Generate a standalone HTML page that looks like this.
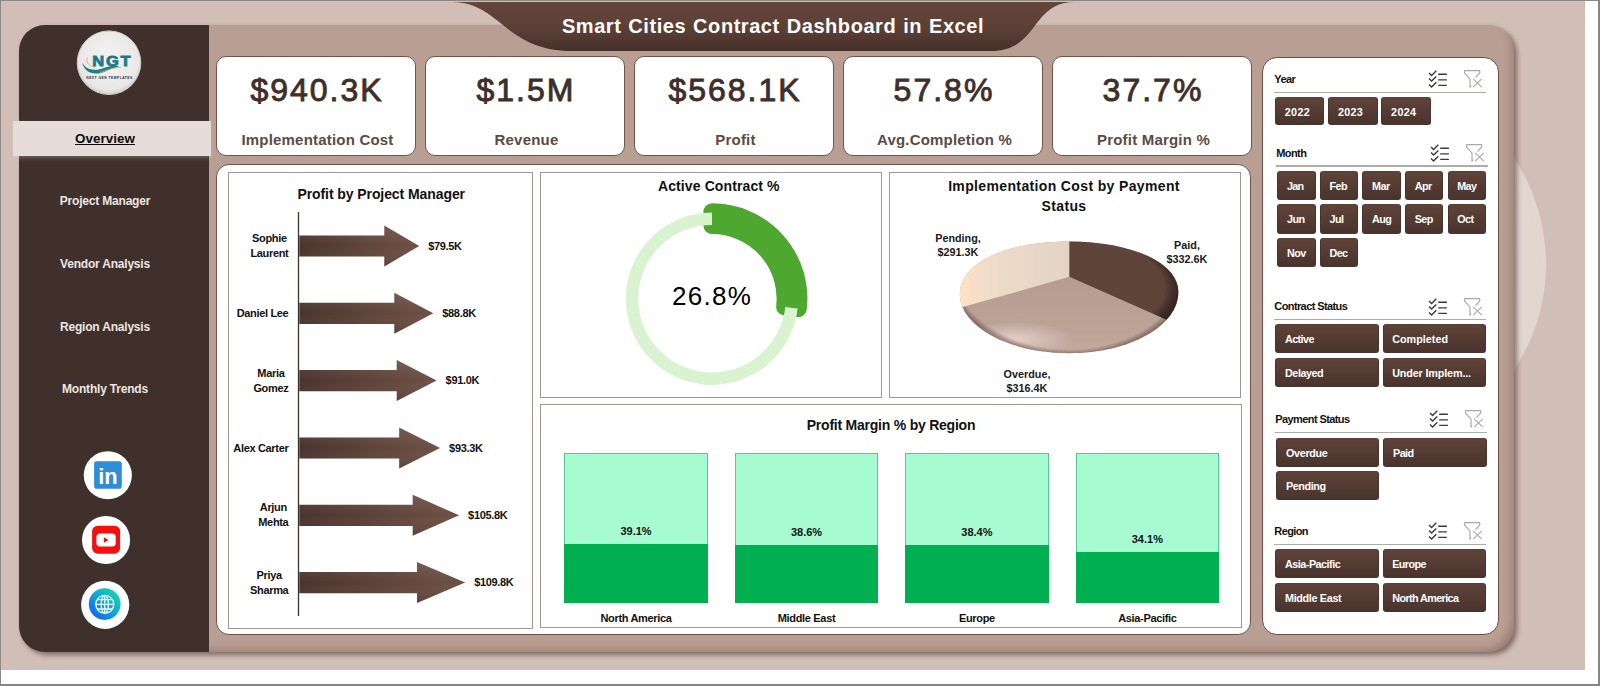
<!DOCTYPE html>
<html lang="en">
<head>
<meta charset="utf-8">
<title>Smart Cities Contract Dashboard in Excel</title>
<style>
*{box-sizing:border-box;margin:0;padding:0}
html,body{width:1600px;height:686px;overflow:hidden;background:#fff}
body{position:relative;font-family:"Liberation Sans",sans-serif;color:#000}
.abs{position:absolute}
#frame{position:absolute;left:0;top:0;width:1600px;height:686px;border-left:1px solid #8f8986;border-top:1px solid #8f8986;border-right:2px solid #868686;border-bottom:2px solid #868686;z-index:50;pointer-events:none}
#bg{position:absolute;left:1px;top:1px;width:1584px;height:669px;background:#d1beb6}
#halo{position:absolute;left:1162px;top:72px;width:384px;height:384px;border-radius:50%;background:radial-gradient(circle at 50% 50%,#e9dfdb 0%,#e2d6d1 70%,#dacbc5 90%,#d5c4bd 100%);}
#main{position:absolute;left:19px;top:25px;width:1494.5px;height:627px;border-radius:26px;background:#b99e94;box-shadow:3px 3px 5px rgba(60,40,35,.55),inset -7px -7px 9px -5px rgba(70,40,32,.28)}
#side{position:absolute;left:19px;top:25px;width:190px;height:627px;border-radius:26px 0 0 26px;background:#3f302b}
#ovw{position:absolute;left:13px;top:121px;width:198px;height:34.5px;background:#e6dcd8;box-shadow:0 2px 4px rgba(225,215,210,.3)}
.nav{position:absolute;left:19px;width:172px;text-align:center;font-weight:bold;font-size:12px;color:#ece5e1;letter-spacing:-.2px;line-height:16px;white-space:nowrap}
#ovwt{position:absolute;left:13px;top:121px;width:184px;height:34px;line-height:35px;text-align:center;font-weight:bold;font-size:13.4px;color:#0f0b0a;text-decoration:underline;letter-spacing:.05px}
.kpi{position:absolute;top:55.6px;width:199.2px;height:100.4px;background:#fff;border:1.5px solid #70544a;border-radius:10px}
.kpi .v{position:absolute;left:2px;right:0;top:14px;text-align:center;font-size:32px;line-height:38px;color:#3d2f2b;letter-spacing:2px;-webkit-text-stroke:.9px #3d2f2b;white-space:nowrap}
.kpi .l{position:absolute;left:3px;right:0;top:74px;text-align:center;font-size:15px;line-height:18px;font-weight:bold;color:#5b4a45;white-space:nowrap;letter-spacing:.2px}
#cont{position:absolute;left:216px;top:164px;width:1035px;height:471px;background:#fff;border:1.5px solid #6f544b;border-radius:13px}
.cbox{position:absolute;background:#fff;border:1px solid #9f9694}
.ttl{position:absolute;font-weight:bold;font-size:14px;line-height:18px;text-align:center;white-space:nowrap;color:#111}
#slc{position:absolute;left:1261.5px;top:57px;width:237.3px;height:577.5px;background:#fff;border:1.5px solid #684e45;border-radius:15px}
.sh{position:absolute;font-weight:bold;font-size:11px;line-height:14px;color:#111;white-space:nowrap;letter-spacing:-.6px}
.sl{position:absolute;height:1.2px;background:#adada8}
.sb{position:absolute;height:29px;border-radius:3px;padding-left:8.7px;background:linear-gradient(#5f4339,#49342d);border:1px solid #49342d;border-top-color:#5a3f36;color:#fff;font-weight:bold;font-size:10.8px;line-height:27px;white-space:nowrap;overflow:hidden;letter-spacing:-.6px}
.lab{position:absolute;font-weight:bold;font-size:11px;line-height:15px;white-space:nowrap;color:#111;text-align:center;letter-spacing:-.33px}
.pl{font-size:10.8px;line-height:14.4px;color:#1a1a1a;letter-spacing:0}

</style>
</head>
<body>
<div id="bg"></div>
<div id="halo"></div>
<div id="main"></div>
<div id="side"></div>
<svg class="abs" style="left:440px;top:0" width="660" height="60" viewBox="440 0 660 60">
<defs><linearGradient id="bn" x1="0" y1="0" x2="0" y2="1"><stop offset="0" stop-color="#644539"/><stop offset=".55" stop-color="#5b3f36"/><stop offset="1" stop-color="#45302a"/></linearGradient></defs>
<path d="M452 2 C500 2 505 51 572 51 L990 51 C1040 51 1030 2 1075 2 Z" fill="url(#bn)"/>
</svg>
<div class="abs" id="title" style="left:473px;top:13px;width:600px;text-align:center;color:#fff;font-weight:bold;font-size:20px;line-height:26px;letter-spacing:.55px;word-spacing:.9px;white-space:nowrap">Smart Cities Contract Dashboard in Excel</div>
<div id="ovw"></div><div id="ovwt">Overview</div>
<div class="nav" style="top:193.2px">Project Manager</div>
<div class="nav" style="top:255.9px">Vendor Analysis</div>
<div class="nav" style="top:318.6px">Region Analysis</div>
<div class="nav" style="top:381.3px">Monthly Trends</div>
<svg class="abs" style="left:74px;top:28px" width="70" height="70" viewBox="0 0 70 70">
<defs><radialGradient id="lg" cx=".5" cy=".45" r=".55"><stop offset="0" stop-color="#f4f4f3"/><stop offset=".85" stop-color="#e9e8e6"/><stop offset="1" stop-color="#d2cfcb"/></radialGradient></defs>
<circle cx="35" cy="34.7" r="31.8" fill="url(#lg)" stroke="#cfc9c4" stroke-width="1"/>
<path d="M8.2 34.6 C12 42.6 21 43 29 40.2 C36 37.6 41 37.8 45.5 38.4 C40 39.4 36 41.2 30 43.9 C20 47.9 10.3 44.8 8.2 34.6Z" fill="#1b7f8e"/>
<path d="M13.5 29.5 C11.5 34 15 38.6 21 39.2 M26 44.6 C33 42 39 39.6 47 39.4" fill="none" stroke="#e9a941" stroke-width=".8"/>
<text x="18.2" y="38.1" textLength="40.2" lengthAdjust="spacingAndGlyphs" font-family="Liberation Sans, sans-serif" font-weight="bold" font-size="14.2" letter-spacing="1.6" fill="#1b7a8a" stroke="#1b7a8a" stroke-width=".8">NGT</text>
<text x="35.5" y="50.6" text-anchor="middle" font-family="Liberation Sans, sans-serif" font-weight="bold" font-size="3.3" letter-spacing=".5" fill="#2a2a33">NEXT GEN TEMPLATES</text>
</svg>
<svg class="abs" style="left:80px;top:448px" width="56" height="186" viewBox="80 448 56 186">
<defs><linearGradient id="gl" x1="1" y1="0" x2="0" y2="1"><stop offset=".1" stop-color="#18d8a6"/><stop offset=".5" stop-color="#10a4d6"/><stop offset=".9" stop-color="#1462ee"/></linearGradient></defs>
<circle cx="107.8" cy="475.2" r="24.05" fill="#fff"/>
<rect x="94.1" y="461.2" width="27.7" height="27.5" rx="2.8" fill="#2f8dd6"/>
<text x="98.2" y="484" font-family="Liberation Sans, sans-serif" font-weight="bold" font-size="22.6" textLength="19.4" lengthAdjust="spacingAndGlyphs" fill="#fff">in</text>
<circle cx="106.05" cy="540" r="24.05" fill="#fff"/>
<rect x="92.1" y="525.7" width="28" height="28" rx="5.6" fill="#f4100f"/>
<rect x="96.4" y="533.4" width="19.3" height="13.2" rx="3.6" fill="#fff"/>
<path d="M103.9 537.3 L108.5 540 L103.9 542.7Z" fill="#e0101a"/>
<circle cx="105.2" cy="604.8" r="24.1" fill="#fff"/>
<circle cx="104.7" cy="604.1" r="15.9" fill="url(#gl)"/>
<g fill="none" stroke="#e8fbff" stroke-width="1.35"><circle cx="104.8" cy="604.3" r="9"/><ellipse cx="104.8" cy="604.3" rx="3.6" ry="9"/><path d="M95.8 604.3h18M104.8 595.3v18M97.3 599.6h15M97.3 609h15"/></g>
</svg>
<div class="kpi" style="left:216.4px"><div class="v">$940.3K</div><div class="l">Implementation Cost</div></div>
<div class="kpi" style="left:425.4px"><div class="v">$1.5M</div><div class="l">Revenue</div></div>
<div class="kpi" style="left:634.4px"><div class="v">$568.1K</div><div class="l">Profit</div></div>
<div class="kpi" style="left:843.4px"><div class="v">57.8%</div><div class="l">Avg.Completion %</div></div>
<div class="kpi" style="left:1052.4px"><div class="v">37.7%</div><div class="l">Profit Margin %</div></div>
<div id="cont"></div>
<div class="cbox" style="left:228px;top:172px;width:305px;height:457px"></div>
<div class="ttl" style="left:281.2px;top:185px;width:200px;letter-spacing:-.08px">Profit by Project Manager</div>
<svg class="abs" style="left:229px;top:173px" width="303" height="455" viewBox="229 173 303 455"><defs><linearGradient id="ar" x1="0" y1="0" x2="1" y2="0"><stop offset="0" stop-color="#4a342d"/><stop offset=".5" stop-color="#5d4339"/><stop offset="1" stop-color="#6f5045"/></linearGradient><linearGradient id="arv" x1="0" y1="0" x2="0" y2="1"><stop offset="0" stop-color="#fff" stop-opacity=".10"/><stop offset=".5" stop-color="#fff" stop-opacity="0"/><stop offset="1" stop-color="#000" stop-opacity=".12"/></linearGradient></defs><path d="M298.5 212V616" stroke="#3d312e" stroke-width="1.3"/><path d="M299.3 235.4H384.3V225.5L419.2 246.0L384.3 266.5V256.6H299.3Z" fill="url(#ar)"/><path d="M299.3 235.4H384.3V225.5L419.2 246.0L384.3 266.5V256.6H299.3Z" fill="url(#arv)"/><path d="M299.3 302.7H394.3V292.8L433.3 313.3L394.3 333.8V323.9H299.3Z" fill="url(#ar)"/><path d="M299.3 302.7H394.3V292.8L433.3 313.3L394.3 333.8V323.9H299.3Z" fill="url(#arv)"/><path d="M299.3 370.0H396.7V360.1L436.6 380.6L396.7 401.1V391.2H299.3Z" fill="url(#ar)"/><path d="M299.3 370.0H396.7V360.1L436.6 380.6L396.7 401.1V391.2H299.3Z" fill="url(#arv)"/><path d="M299.3 437.4H399.2V427.5L440.1 448.0L399.2 468.5V458.6H299.3Z" fill="url(#ar)"/><path d="M299.3 437.4H399.2V427.5L440.1 448.0L399.2 468.5V458.6H299.3Z" fill="url(#arv)"/><path d="M299.3 504.7H412.7V494.8L459.1 515.3L412.7 535.8V525.9H299.3Z" fill="url(#ar)"/><path d="M299.3 504.7H412.7V494.8L459.1 515.3L412.7 535.8V525.9H299.3Z" fill="url(#arv)"/><path d="M299.3 572.0H417.0V562.1L465.2 582.6L417.0 603.1V593.2H299.3Z" fill="url(#ar)"/><path d="M299.3 572.0H417.0V562.1L465.2 582.6L417.0 603.1V593.2H299.3Z" fill="url(#arv)"/></svg>
<div class="lab" style="left:428.2px;top:238.5px;text-align:left">$79.5K</div>
<div class="lab" style="right:1311.6px;top:231.0px">Sophie<br>Laurent</div>
<div class="lab" style="left:442.3px;top:305.8px;text-align:left">$88.8K</div>
<div class="lab" style="right:1311.6px;top:305.8px">Daniel Lee</div>
<div class="lab" style="left:445.6px;top:373.1px;text-align:left">$91.0K</div>
<div class="lab" style="right:1311.6px;top:365.6px">Maria<br>Gomez</div>
<div class="lab" style="left:449.1px;top:440.5px;text-align:left">$93.3K</div>
<div class="lab" style="right:1311.6px;top:440.5px">Alex Carter</div>
<div class="lab" style="left:468.1px;top:507.8px;text-align:left">$105.8K</div>
<div class="lab" style="right:1311.6px;top:500.3px">Arjun<br>Mehta</div>
<div class="lab" style="left:474.2px;top:575.1px;text-align:left">$109.8K</div>
<div class="lab" style="right:1311.6px;top:567.6px">Priya<br>Sharma</div>
<div class="cbox" style="left:540px;top:172px;width:342px;height:226px"></div>
<div class="ttl" style="left:618.8px;top:177px;width:200px;letter-spacing:.11px">Active Contract %</div>
<svg class="abs" style="left:541px;top:173px" width="340" height="224" viewBox="541 173 340 224">
<path d="M712.00 211.90A86.8 86.8 0 0 1 798.25 308.50L784.73 306.96A73.2 73.2 0 0 0 712.00 225.50Z" fill="#4ea72e" stroke="#4ea72e" stroke-width="17.2" stroke-linejoin="round"/>
<path d="M797.65 308.41A86.2 86.2 0 1 1 712.00 212.50L712.00 224.90A73.8 73.8 0 1 0 785.33 307.02Z" fill="#d9f2d0"/>
</svg>
<div class="abs" style="left:612px;top:280px;width:200px;text-align:center;font-size:26px;line-height:32px;letter-spacing:1.3px;color:#000">26.8%</div>
<div class="cbox" style="left:889px;top:172px;width:352px;height:226px"></div>
<div class="ttl" style="left:914px;top:176px;width:300px;letter-spacing:.36px;line-height:20px">Implementation Cost by Payment<br>Status</div>
<svg class="abs" style="left:890px;top:173px" width="350" height="224" viewBox="890 173 350 224">
<defs>
<clipPath id="pc"><path d="M959.8 294 C959.8 262 1008 241.4 1069 241.4 C1130 241.4 1178.3 262 1178.3 292 C1178.3 326 1130 353.2 1069 353.2 C1008 353.2 959.8 326 959.8 294Z"/></clipPath>
<radialGradient id="rimD" cx="1062" cy="288" r="116" gradientUnits="userSpaceOnUse" gradientTransform="translate(0 141.1) scale(1 .51)"><stop offset="0" stop-color="#000" stop-opacity="0"/><stop offset=".88" stop-color="#000" stop-opacity="0"/><stop offset="1" stop-color="#1c0f0b" stop-opacity=".55"/></radialGradient>
<radialGradient id="rimO" cx="1069" cy="262" r="124" gradientUnits="userSpaceOnUse" gradientTransform="translate(0 68.1) scale(1 .74)"><stop offset="0" stop-color="#000" stop-opacity="0"/><stop offset=".95" stop-color="#3a2019" stop-opacity="0"/><stop offset="1" stop-color="#3a2019" stop-opacity=".38"/></radialGradient>
<radialGradient id="hiO" cx="1015" cy="339" r="58" gradientUnits="userSpaceOnUse" gradientTransform="translate(0 237.3) scale(1 .3)"><stop offset="0" stop-color="#fbe9e2" stop-opacity=".6"/><stop offset="1" stop-color="#fbe9e2" stop-opacity="0"/></radialGradient>
<linearGradient id="hiP" x1="960" y1="0" x2="1069" y2="0" gradientUnits="userSpaceOnUse"><stop offset="0" stop-color="#fde2c6"/><stop offset=".25" stop-color="#efdcc9"/><stop offset="1" stop-color="#e3d4c6"/></linearGradient>
<linearGradient id="baseO" x1="0" y1="277" x2="0" y2="353" gradientUnits="userSpaceOnUse"><stop offset="0" stop-color="#b79c92"/><stop offset=".7" stop-color="#bda298"/><stop offset="1" stop-color="#c5aaa0"/></linearGradient>
</defs>
<g clip-path="url(#pc)">
<rect x="955" y="236" width="230" height="122" fill="url(#baseO)"/>
<path d="M1069.4 276.8 L1069.4 230 L940 230 L940 313.5 Z" fill="url(#hiP)"/>
<path d="M1069.4 276.8 L1069.4 230 L1200 230 L1200 334.5 Z" fill="#5f443a"/>
<path d="M1069.4 276.8 L1200 334.5 L1200 230 L1069.4 230Z" fill="url(#rimD)"/>
<path d="M1069.4 276.8 L1200 334.5 L1200 370 L940 370 L940 313.5Z" fill="url(#hiO)"/>
<path d="M1069.4 276.8 L1200 334.5 L1200 370 L940 370 L940 313.5Z" fill="url(#rimO)"/>
</g>
</svg>
<div class="lab pl" style="left:918px;top:231px;width:80px">Pending,<br>$291.3K</div>
<div class="lab pl" style="left:1147px;top:238px;width:80px">Paid,<br>$332.6K</div>
<div class="lab pl" style="left:987px;top:366.5px;width:80px">Overdue,<br>$316.4K</div>

<div class="cbox" style="left:540px;top:404px;width:701.5px;height:224px"></div>
<div class="ttl" style="left:791px;top:416px;width:200px;letter-spacing:-.23px">Profit Margin % by Region</div>
<div class="abs" style="left:564.2px;top:453.4px;width:143.7px;height:149.2px;background:#a6fbd0;border:1px solid #55c98f"></div>
<div class="abs" style="left:564.2px;top:544.3px;width:143.7px;height:58.3px;background:#00b050"></div>
<div class="lab" style="left:564.2px;width:143.7px;top:524.3px;font-size:11px;letter-spacing:0">39.1%</div>
<div class="lab" style="left:564.2px;width:143.7px;top:610.5px">North America</div>
<div class="abs" style="left:734.7px;top:453.4px;width:143.7px;height:149.2px;background:#a6fbd0;border:1px solid #55c98f"></div>
<div class="abs" style="left:734.7px;top:545.0px;width:143.7px;height:57.6px;background:#00b050"></div>
<div class="lab" style="left:734.7px;width:143.7px;top:525.0px;font-size:11px;letter-spacing:0">38.6%</div>
<div class="lab" style="left:734.7px;width:143.7px;top:610.5px">Middle East</div>
<div class="abs" style="left:905.1px;top:453.4px;width:143.7px;height:149.2px;background:#a6fbd0;border:1px solid #55c98f"></div>
<div class="abs" style="left:905.1px;top:545.3px;width:143.7px;height:57.3px;background:#00b050"></div>
<div class="lab" style="left:905.1px;width:143.7px;top:525.3px;font-size:11px;letter-spacing:0">38.4%</div>
<div class="lab" style="left:905.1px;width:143.7px;top:610.5px">Europe</div>
<div class="abs" style="left:1075.5px;top:453.4px;width:143.7px;height:149.2px;background:#a6fbd0;border:1px solid #55c98f"></div>
<div class="abs" style="left:1075.5px;top:551.7px;width:143.7px;height:50.9px;background:#00b050"></div>
<div class="lab" style="left:1075.5px;width:143.7px;top:531.7px;font-size:11px;letter-spacing:0">34.1%</div>
<div class="lab" style="left:1075.5px;width:143.7px;top:610.5px">Asia-Pacific</div>
<div id="slc"></div>
<div class="sh" style="left:1274.3px;top:71.9px">Year</div>
<div class="sl" style="left:1274.2px;top:91.7px;width:211.6px"></div>
<svg class="abs" style="left:1426.1px;top:67.2px" width="62" height="24" viewBox="-3 -3 62 24"><g fill="none" stroke="#3b3b3b" stroke-width="1.4" transform="translate(0 .8)"><path d="M0 2.1L2.6 4.7L7.3 0M0 7.7L2.6 10.3L7.3 5.6M0 13.6L2.6 16.2L7.3 11.5"/><path d="M9.2 3.5h8.7M9.2 9.1h8.7M9.2 14.6h8.7"/></g>
<g fill="none" stroke="#a9a9a9" stroke-width="1.15" transform="translate(0 .3)"><path d="M35.5 0.3H50.7M35.5 0V2.7L41 8.8V16.6L42.2 15.6M50.7 0V2.7L46.3 7.4"/><path d="M44.1 8.6L52.8 16.8M52.8 8.6L44.1 16.8"/></g></svg>
<div class="sb" style="left:1275.1px;top:97.2px;width:49.4px;height:27.5px;line-height:29.3px;letter-spacing:0.3px">2022</div>
<div class="sb" style="left:1328.2px;top:97.2px;width:49.4px;height:27.5px;line-height:29.3px;letter-spacing:0.3px">2023</div>
<div class="sb" style="left:1381.4px;top:97.2px;width:49.4px;height:27.5px;line-height:29.3px;letter-spacing:0.3px">2024</div>
<div class="sh" style="left:1276.3px;top:145.6px">Month</div>
<div class="sl" style="left:1276.2px;top:165.4px;width:211.6px"></div>
<svg class="abs" style="left:1428.1px;top:140.9px" width="62" height="24" viewBox="-3 -3 62 24"><g fill="none" stroke="#3b3b3b" stroke-width="1.4" transform="translate(0 .8)"><path d="M0 2.1L2.6 4.7L7.3 0M0 7.7L2.6 10.3L7.3 5.6M0 13.6L2.6 16.2L7.3 11.5"/><path d="M9.2 3.5h8.7M9.2 9.1h8.7M9.2 14.6h8.7"/></g>
<g fill="none" stroke="#a9a9a9" stroke-width="1.15" transform="translate(0 .3)"><path d="M35.5 0.3H50.7M35.5 0V2.7L41 8.8V16.6L42.2 15.6M50.7 0V2.7L46.3 7.4"/><path d="M44.1 8.6L52.8 16.8M52.8 8.6L44.1 16.8"/></g></svg>
<div class="sb" style="left:1277.3px;top:171.1px;width:38.4px;height:29.3px;line-height:29.6px;letter-spacing:-0.7px">Jan</div>
<div class="sb" style="left:1319.8px;top:171.1px;width:38.4px;height:29.3px;line-height:29.6px;letter-spacing:-0.6px">Feb</div>
<div class="sb" style="left:1362.4px;top:171.1px;width:38.4px;height:29.3px;line-height:29.6px;letter-spacing:-0.6px">Mar</div>
<div class="sb" style="left:1405.0px;top:171.1px;width:38.4px;height:29.3px;line-height:29.6px;letter-spacing:-0.6px">Apr</div>
<div class="sb" style="left:1447.5px;top:171.1px;width:38.4px;height:29.3px;line-height:29.6px;letter-spacing:-0.6px">May</div>
<div class="sb" style="left:1277.3px;top:204.4px;width:38.4px;height:29.3px;line-height:29.6px;letter-spacing:-0.6px">Jun</div>
<div class="sb" style="left:1319.8px;top:204.4px;width:38.4px;height:29.3px;line-height:29.6px;letter-spacing:-0.6px">Jul</div>
<div class="sb" style="left:1362.4px;top:204.4px;width:38.4px;height:29.3px;line-height:29.6px;letter-spacing:-0.6px">Aug</div>
<div class="sb" style="left:1405.0px;top:204.4px;width:38.4px;height:29.3px;line-height:29.6px;letter-spacing:-0.6px">Sep</div>
<div class="sb" style="left:1447.5px;top:204.4px;width:38.4px;height:29.3px;line-height:29.6px;letter-spacing:-0.6px">Oct</div>
<div class="sb" style="left:1277.3px;top:237.8px;width:38.4px;height:29.3px;line-height:29.6px;letter-spacing:-0.6px">Nov</div>
<div class="sb" style="left:1319.8px;top:237.8px;width:38.4px;height:29.3px;line-height:29.6px;letter-spacing:-0.6px">Dec</div>
<div class="sh" style="left:1274.3px;top:299.2px">Contract Status</div>
<div class="sl" style="left:1274.2px;top:319.0px;width:211.6px"></div>
<svg class="abs" style="left:1426.1px;top:294.5px" width="62" height="24" viewBox="-3 -3 62 24"><g fill="none" stroke="#3b3b3b" stroke-width="1.4" transform="translate(0 .8)"><path d="M0 2.1L2.6 4.7L7.3 0M0 7.7L2.6 10.3L7.3 5.6M0 13.6L2.6 16.2L7.3 11.5"/><path d="M9.2 3.5h8.7M9.2 9.1h8.7M9.2 14.6h8.7"/></g>
<g fill="none" stroke="#a9a9a9" stroke-width="1.15" transform="translate(0 .3)"><path d="M35.5 0.3H50.7M35.5 0V2.7L41 8.8V16.6L42.2 15.6M50.7 0V2.7L46.3 7.4"/><path d="M44.1 8.6L52.8 16.8M52.8 8.6L44.1 16.8"/></g></svg>
<div class="sb" style="left:1275.3px;top:324.2px;width:103.3px;height:29.3px;line-height:29.6px;letter-spacing:-0.6px">Active</div>
<div class="sb" style="left:1382.5px;top:324.2px;width:103.3px;height:29.3px;line-height:29.6px;letter-spacing:0px">Completed</div>
<div class="sb" style="left:1275.3px;top:357.7px;width:103.3px;height:29.3px;line-height:29.6px;letter-spacing:-0.45px">Delayed</div>
<div class="sb" style="left:1382.5px;top:357.7px;width:103.3px;height:29.3px;line-height:29.6px;letter-spacing:-0.15px">Under Implem...</div>
<div class="sh" style="left:1275.3px;top:412.0px">Payment Status</div>
<div class="sl" style="left:1275.2px;top:431.8px;width:211.6px"></div>
<svg class="abs" style="left:1427.1px;top:407.3px" width="62" height="24" viewBox="-3 -3 62 24"><g fill="none" stroke="#3b3b3b" stroke-width="1.4" transform="translate(0 .8)"><path d="M0 2.1L2.6 4.7L7.3 0M0 7.7L2.6 10.3L7.3 5.6M0 13.6L2.6 16.2L7.3 11.5"/><path d="M9.2 3.5h8.7M9.2 9.1h8.7M9.2 14.6h8.7"/></g>
<g fill="none" stroke="#a9a9a9" stroke-width="1.15" transform="translate(0 .3)"><path d="M35.5 0.3H50.7M35.5 0V2.7L41 8.8V16.6L42.2 15.6M50.7 0V2.7L46.3 7.4"/><path d="M44.1 8.6L52.8 16.8M52.8 8.6L44.1 16.8"/></g></svg>
<div class="sb" style="left:1276.2px;top:437.5px;width:103.3px;height:29.3px;line-height:29.6px;letter-spacing:-0.3px">Overdue</div>
<div class="sb" style="left:1383.4px;top:437.5px;width:103.3px;height:29.3px;line-height:29.6px;letter-spacing:-0.6px">Paid</div>
<div class="sb" style="left:1276.2px;top:470.9px;width:103.3px;height:29.3px;line-height:29.6px;letter-spacing:-0.4px">Pending</div>
<div class="sh" style="left:1274.3px;top:524.0px">Region</div>
<div class="sl" style="left:1274.2px;top:543.8px;width:211.6px"></div>
<svg class="abs" style="left:1426.1px;top:519.3px" width="62" height="24" viewBox="-3 -3 62 24"><g fill="none" stroke="#3b3b3b" stroke-width="1.4" transform="translate(0 .8)"><path d="M0 2.1L2.6 4.7L7.3 0M0 7.7L2.6 10.3L7.3 5.6M0 13.6L2.6 16.2L7.3 11.5"/><path d="M9.2 3.5h8.7M9.2 9.1h8.7M9.2 14.6h8.7"/></g>
<g fill="none" stroke="#a9a9a9" stroke-width="1.15" transform="translate(0 .3)"><path d="M35.5 0.3H50.7M35.5 0V2.7L41 8.8V16.6L42.2 15.6M50.7 0V2.7L46.3 7.4"/><path d="M44.1 8.6L52.8 16.8M52.8 8.6L44.1 16.8"/></g></svg>
<div class="sb" style="left:1275.3px;top:549.1px;width:103.3px;height:29.3px;line-height:29.6px;letter-spacing:-0.5px">Asia-Pacific</div>
<div class="sb" style="left:1382.5px;top:549.1px;width:103.3px;height:29.3px;line-height:29.6px;letter-spacing:-0.6px">Europe</div>
<div class="sb" style="left:1275.3px;top:582.7px;width:103.3px;height:29.3px;line-height:29.6px;letter-spacing:-0.33px">Middle East</div>
<div class="sb" style="left:1382.5px;top:582.7px;width:103.3px;height:29.3px;line-height:29.6px;letter-spacing:-0.6px">North America</div>
<div id="frame"></div>
</body>
</html>
